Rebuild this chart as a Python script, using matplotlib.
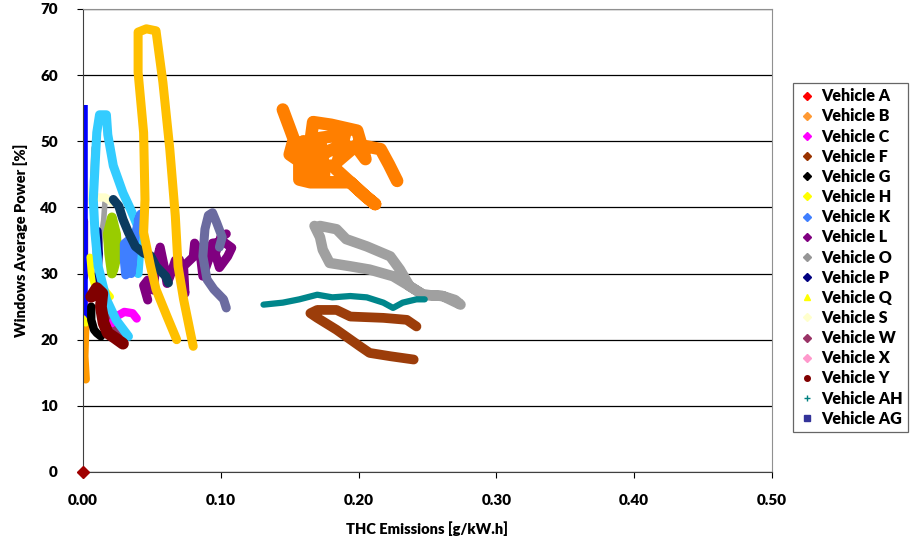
import matplotlib
matplotlib.use('Agg')
import matplotlib.pyplot as plt
from matplotlib.lines import Line2D

plt.rcParams['font.family'] = ['Lato', 'DejaVu Sans']

# traced windows (THC g/kW.h, average power %)
a_x = [0.0]
a_y = [0.0]
b_x = [0.002, 0.001, 0.0015, 0.002]
b_y = [14.0, 17.5, 21.0, 23.5]
c_x = [0.021, 0.025, 0.030, 0.036, 0.039]
c_y = [22.5, 23.6, 24.2, 24.0, 23.2]
f_x = [0.242, 0.235, 0.218, 0.194, 0.184, 0.170, 0.165, 0.170, 0.184, 0.201, 0.208, 0.223, 0.240]
f_y = [22.0, 23.0, 23.3, 23.5, 24.5, 24.5, 24.0, 23.3, 21.5, 19.0, 18.0, 17.5, 17.0]
g_x = [0.006, 0.006, 0.008, 0.010, 0.013]
g_y = [25.0, 23.0, 21.5, 21.0, 20.5]
h_x = [0.005, 0.006, 0.008, 0.012, 0.016, 0.020]
h_y = [32.5, 30.0, 28.5, 28.0, 27.5, 26.5]
k_x = [0.031, 0.030, 0.030, 0.033, 0.036, 0.035, 0.038, 0.040, 0.042, 0.040]
k_y = [29.8, 32.0, 34.5, 35.0, 33.0, 30.0, 36.0, 37.5, 39.0, 38.0]
l_x = [0.047, 0.044, 0.047, 0.051, 0.053, 0.056, 0.059, 0.061, 0.063, 0.067, 0.070, 0.072, 0.074,
       0.073, 0.080, 0.081, 0.085, 0.087, 0.091, 0.094, 0.102, 0.108, 0.105, 0.099, 0.096, 0.100, 0.104]
l_y = [26.0, 28.2, 29.0, 27.5, 31.5, 34.0, 31.0, 28.5, 29.5, 32.0, 32.1, 29.0, 27.0,
       31.1, 32.5, 34.6, 33.1, 29.6, 32.0, 34.6, 34.8, 33.9, 32.6, 30.9, 33.0, 35.5, 36.0]
o_x = [0.168, 0.172, 0.174, 0.179, 0.194, 0.208, 0.225, 0.237, 0.247, 0.261, 0.270, 0.274,
       0.261, 0.247, 0.237, 0.230, 0.223, 0.206, 0.191, 0.184, 0.172]
o_y = [37.2, 35.5, 33.6, 31.6, 31.1, 30.6, 29.6, 28.1, 26.8, 26.6, 26.0, 25.3,
       26.6, 26.8, 28.1, 30.6, 32.6, 34.1, 35.2, 36.7, 37.2]
o2_x = [0.008, 0.007, 0.008, 0.009, 0.012, 0.015, 0.016]
o2_y = [49.0, 44.0, 38.0, 32.0, 34.0, 38.0, 41.0]
p_x = [0.011, 0.012, 0.011, 0.013, 0.015]
p_y = [36.5, 33.0, 30.0, 27.0, 24.5]
q_x = [0.0, 0.002]
q_y = [23.2, 22.5]
s_x = [0.0, 0.0005, 0.004, 0.010, 0.016, 0.021]
s_y = [49.0, 44.0, 41.0, 41.5, 41.5, 40.8]
w_x = [0.018, 0.020, 0.024, 0.027]
w_y = [25.0, 23.0, 21.5, 21.0]
x_x = [0.0, 0.002, 0.004]
x_y = [27.0, 25.0, 23.5]
y_x = [0.006, 0.010, 0.014, 0.013, 0.015, 0.018, 0.023, 0.029]
y_y = [26.5, 27.8, 27.0, 25.0, 22.5, 21.0, 20.3, 19.4]
ah_x = [0.131, 0.145, 0.157, 0.170, 0.181, 0.194, 0.206, 0.218, 0.225, 0.232, 0.242, 0.248]
ah_y = [25.3, 25.6, 26.1, 26.8, 26.4, 26.6, 26.4, 25.6, 24.8, 25.6, 26.1, 26.1]
ag_x = [0.104, 0.102, 0.095, 0.090, 0.087, 0.0885, 0.091, 0.094, 0.097, 0.101, 0.099]
ag_y = [24.8, 26.1, 27.6, 29.1, 32.6, 36.7, 38.8, 39.2, 37.7, 35.5, 34.0]

# series without a visible legend entry
orange_x = [0.145, 0.150, 0.153, 0.150, 0.157, 0.157, 0.165, 0.181, 0.194, 0.205, 0.212, 0.205, 0.194,
            0.185, 0.181, 0.167, 0.165, 0.167, 0.180, 0.199, 0.205, 0.199, 0.187, 0.178, 0.170,
            0.160, 0.158, 0.175, 0.172, 0.190, 0.185, 0.199, 0.216, 0.222, 0.228]
orange_y = [54.8, 52.0, 50.3, 48.0, 47.0, 44.2, 43.8, 43.8, 43.8, 41.7, 40.5, 41.7, 43.8,
            45.5, 46.3, 46.3, 49.8, 52.9, 52.5, 51.6, 47.3, 49.0, 49.3, 48.5, 47.5,
            50.0, 45.5, 45.0, 50.5, 51.0, 47.0, 49.5, 48.8, 46.5, 44.0]
gold_x = [0.068, 0.061, 0.053, 0.049, 0.044, 0.045, 0.044, 0.040, 0.040, 0.046, 0.053,
          0.058, 0.063, 0.067, 0.069, 0.073, 0.078, 0.080]
gold_y = [20.0, 23.5, 27.6, 31.1, 36.2, 41.2, 51.3, 60.4, 66.5, 67.0, 66.7,
          58.9, 48.8, 38.7, 31.1, 26.1, 21.0, 19.0]
cyan_x = [0.033, 0.024, 0.017, 0.011, 0.0087, 0.0075, 0.010, 0.012, 0.017, 0.018, 0.022,
          0.029, 0.035, 0.040, 0.041, 0.040]
cyan_y = [20.5, 23.0, 26.1, 31.1, 36.2, 41.2, 51.3, 54.0, 54.0, 51.0, 46.3,
          42.2, 39.5, 37.0, 33.0, 30.0]
navy_x = [0.022, 0.026, 0.029, 0.033, 0.038, 0.044, 0.049, 0.053, 0.060, 0.062]
navy_y = [41.2, 40.2, 38.2, 36.2, 34.1, 33.1, 32.7, 31.1, 29.6, 28.6]
lime_x = [0.021, 0.019, 0.018, 0.021, 0.024, 0.025, 0.022]
lime_y = [30.0, 33.0, 36.0, 38.5, 36.0, 33.0, 30.5]
blue_x = [0.0012, 0.0012]
blue_y = [23.0, 55.5]
purple2_x = [0.0005, 0.0005]
purple2_y = [29.5, 38.0]

fig = plt.figure(figsize=(9.2, 5.44), dpi=100)
ax = fig.add_axes([0.0902, 0.1324, 0.7489, 0.8511])

kw = dict(solid_capstyle='round', solid_joinstyle='round')
ax.plot(orange_x, orange_y, color='#FF7F00', lw=9, **kw)
ax.plot(o_x, o_y, color='#A0A0A0', lw=7.5, **kw)
ax.plot(ah_x, ah_y, color='#00868B', lw=4.5, **kw)
ax.plot(f_x, f_y, color='#9C3D0A', lw=7, **kw)
ax.plot(o2_x, o2_y, color='#A0A0A0', lw=4, **kw)
ax.plot(s_x, s_y, color='#FFFFCC', lw=6, **kw)
ax.plot(purple2_x, purple2_y, color='#7F1F7F', lw=6, **kw)
ax.plot(x_x, x_y, color='#FF99CC', lw=7, **kw)
ax.plot(b_x, b_y, color='#FF9900', lw=6, **kw)
ax.plot(blue_x, blue_y, color='#0000FF', lw=4, solid_capstyle='butt')
ax.plot(q_x, q_y, color='#FFFF00', lw=5, **kw)
ax.plot(lime_x, lime_y, color='#99CC00', lw=7, **kw)
ax.plot(h_x, h_y, color='#FFFF00', lw=5, **kw)
ax.plot(p_x, p_y, color='#000080', lw=5, **kw)
ax.plot(g_x, g_y, color='#000000', lw=6, **kw)
ax.plot(w_x, w_y, color='#993366', lw=6, **kw)
ax.plot(c_x, c_y, color='#FF00FF', lw=6, **kw)
ax.plot(cyan_x, cyan_y, color='#33CCFF', lw=6.5, **kw)
ax.plot(k_x, k_y, color='#3F7FFF', lw=6.5, **kw)
ax.plot(y_x, y_y, color='#800000', lw=8.5, **kw)
ax.plot(l_x, l_y, color='#800080', lw=6.5, **kw)
ax.plot(ag_x, ag_y, color='#6B6BA0', lw=6.5, **kw)
ax.plot(navy_x, navy_y, color='#0B3B5F', lw=6.5, **kw)
ax.plot(gold_x, gold_y, color='#FFC000', lw=6.5, **kw)
ax.plot(a_x, a_y, marker='D', color='#A00000', ms=6, ls='none', clip_on=False, zorder=5)

ax.set_xlim(0, 0.5)
ax.set_ylim(0, 70)
ax.set_xticks([0, 0.1, 0.2, 0.3, 0.4, 0.5])
ax.set_xticklabels(['0.00', '0.10', '0.20', '0.30', '0.40', '0.50'])
ax.set_yticks(range(0, 71, 10))
ax.grid(axis='y', color='black', lw=0.9)
ax.set_axisbelow(True)
for side in ['top', 'right']:
    ax.spines[side].set_color('#909090')
for side in ['left', 'bottom']:
    ax.spines[side].set_color('#404040')
ax.tick_params(axis='both', direction='out', length=4, labelsize=11)
ax.tick_params(axis='x', pad=12)
ax.tick_params(axis='y', pad=14)
for lab in ax.get_xticklabels() + ax.get_yticklabels():
    lab.set_fontweight('heavy')
ax.set_xlabel('THC Emissions [g/kW.h]', fontsize=10.5, fontweight='heavy', labelpad=10)
ax.set_ylabel('Windows Average Power [%]', fontsize=10.5, fontweight='heavy', labelpad=9)

# legend
names = ['Vehicle A', 'Vehicle B', 'Vehicle C', 'Vehicle F', 'Vehicle G', 'Vehicle H', 'Vehicle K',
         'Vehicle L', 'Vehicle O', 'Vehicle P', 'Vehicle Q', 'Vehicle S', 'Vehicle W', 'Vehicle X',
         'Vehicle Y', 'Vehicle AH', 'Vehicle AG']
colors = ['#FF0000', '#FF9933', '#FF00FF', '#993300', '#000000', '#FFFF00', '#3F7FFF',
          '#800080', '#969696', '#000080', '#FFFF00', '#FFFFCC', '#993366', '#FF99CC',
          '#800000', '#008080', '#333399']
markers = ['D', 'D', 'D', 'D', 'D', 'D', 'D', 'D', 'D', 'D', '^', 'D', 'D', 'D', 'o', '+', 's']
handles = [Line2D([], [], ls='none', marker=m, color=c, ms=4) for m, c in zip(markers, colors)]
leg = fig.legend(handles, names, loc='upper left', bbox_to_anchor=(0.862, 0.848),
                 frameon=True, fancybox=False, edgecolor='#404040',
                 prop={'weight': 'heavy', 'size': 11.5}, handlelength=1.0, handletextpad=0.4,
                 labelspacing=0.26, borderpad=0.35, borderaxespad=0)
leg.get_frame().set_linewidth(0.9)

fig.savefig('out.png', dpi=100)
